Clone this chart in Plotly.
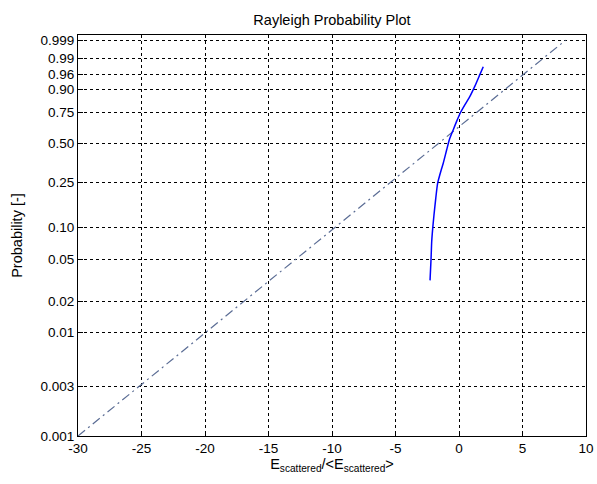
import numpy as np
import plotly.graph_objects as go

# Probability ticks shown on the Rayleigh-scaled axis
prob_ticks = [0.001, 0.003, 0.01, 0.02, 0.05, 0.10, 0.25, 0.50, 0.75, 0.90, 0.96, 0.99, 0.999]
prob_labels = ["0.001", "0.003", "0.01", "0.02", "0.05", "0.10", "0.25", "0.50", "0.75", "0.90", "0.96", "0.99", "0.999"]

# Empirical CDF of the normalised scattered field (dB) and its probabilities
field_db = [-2.28, -2.20, -2.15, -2.07, -1.97, -1.83, -1.68, -1.36, -1.24, -0.97, -0.76,
            -0.45, -0.18, 0.13, 0.47, 0.87, 1.26, 1.65, 1.91]
field_prob = [0.0318, 0.0512, 0.0737, 0.0981, 0.130, 0.183, 0.247, 0.327, 0.358, 0.450, 0.527,
              0.608, 0.678, 0.749, 0.806, 0.862, 0.917, 0.960, 0.978]

# End points of the theoretical Rayleigh reference line
ref_prob = [0.001, 0.999]

x_ticks = [-30, -25, -20, -15, -10, -5, 0, 5, 10]


def rayleigh_scale(p):
    """Map a cumulative probability onto the Rayleigh paper axis (dB)."""
    p = np.asarray(p, dtype=float)
    return 10 * np.log10(-np.log(1 - p))


fig = go.Figure()

ref_y = rayleigh_scale(ref_prob)
fig.add_trace(go.Scatter(
    x=ref_y, y=ref_y, mode="lines",
    line=dict(color="#5a6c94", width=1.2, dash="9px,4px,2px,4px"),
    hoverinfo="skip", showlegend=False,
))

fig.add_trace(go.Scatter(
    x=field_db, y=rayleigh_scale(field_prob), mode="lines",
    line=dict(color="#0000ff", width=1.5, shape="spline", smoothing=0.6),
    showlegend=False,
))

tick_font = dict(family="Liberation Sans, Arial, sans-serif", size=13.5, color="#000000")
label_font = dict(family="Liberation Sans, Arial, sans-serif", size=14.5, color="#000000")

fig.update_layout(
    width=597, height=484,
    margin=dict(l=78, r=11, t=35, b=48, autoexpand=False),
    paper_bgcolor="#ffffff", plot_bgcolor="#ffffff",
    font=tick_font,
    title=dict(text="Rayleigh Probability Plot", x=0.556, xanchor="center", y=0.958, yanchor="middle",
               font=label_font),
    xaxis=dict(
        range=[-30, 10], tickmode="array", tickvals=x_ticks,
        ticktext=[str(v) for v in x_ticks],
        showgrid=True, gridcolor="#000000", griddash="3px,3px", gridwidth=1,
        showline=True, linecolor="#000000", linewidth=1, mirror=True,
        ticks="inside", ticklen=5, tickcolor="#000000",
        zeroline=False, tickfont=tick_font, automargin=False,
        title=dict(text="E<sub>scattered</sub>/&lt;E<sub>scattered</sub>&gt;", font=label_font, standoff=2),
    ),
    yaxis=dict(
        range=[-30, 8.9], tickmode="array", tickvals=rayleigh_scale(prob_ticks),
        ticktext=prob_labels,
        showgrid=True, gridcolor="#000000", griddash="3px,3px", gridwidth=1,
        showline=True, linecolor="#000000", linewidth=1, mirror=True,
        ticks="inside", ticklen=5, tickcolor="#000000",
        zeroline=False, tickfont=tick_font, automargin=False,
        title=dict(text="Probability [-]", font=label_font, standoff=14),
    ),
)

fig.write_html("out.html")
